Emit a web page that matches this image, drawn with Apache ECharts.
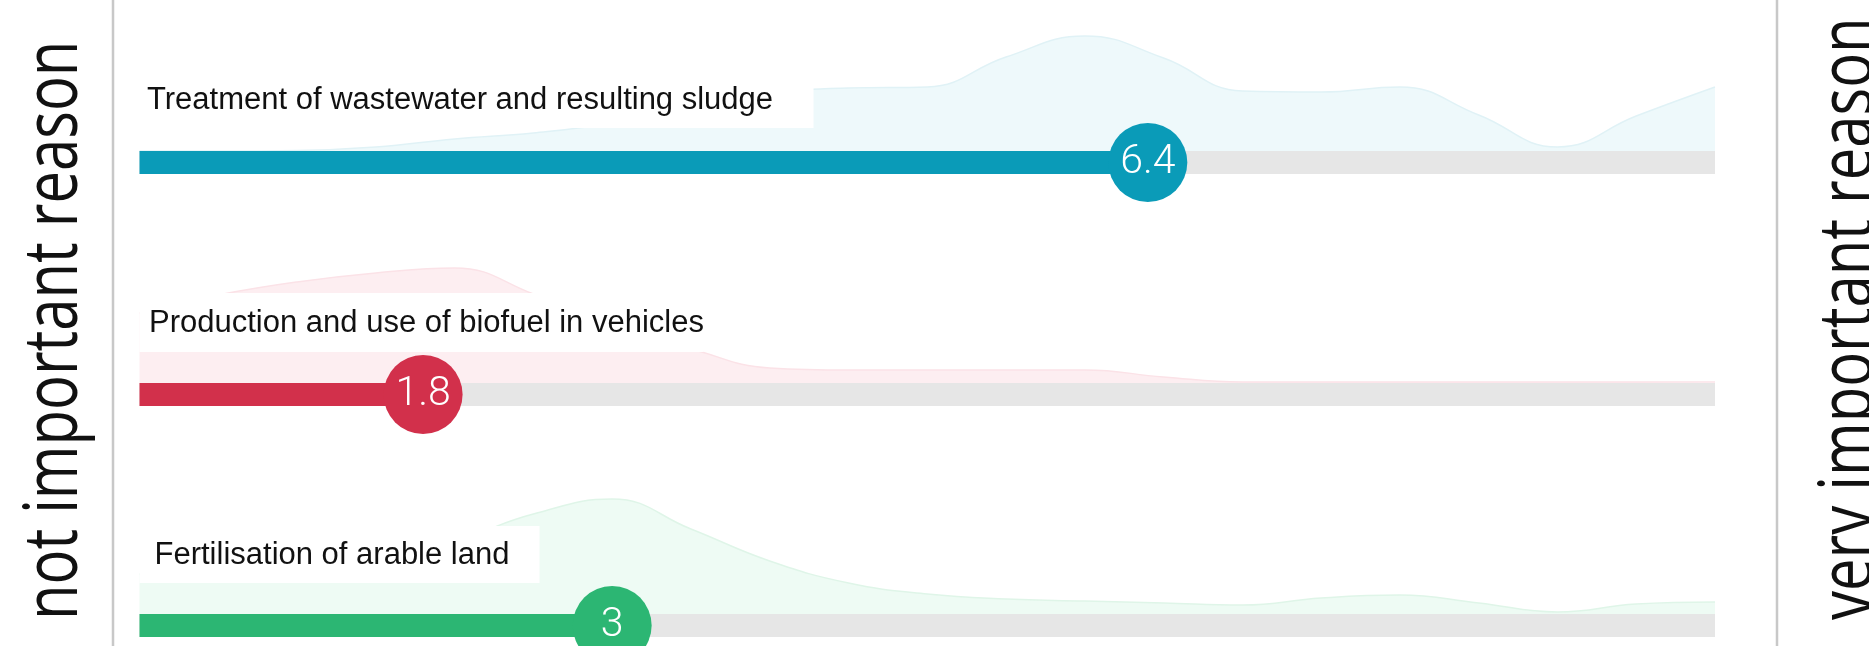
<!DOCTYPE html>
<html>
<head>
<meta charset="utf-8">
<script src="https://cdn.jsdelivr.net/npm/echarts@6.0.0/dist/echarts.min.js"></script>
<style>
  html, body { margin: 0; padding: 0; background: #ffffff; }
  #chart { width: 1869px; height: 646px; }
</style>
</head>
<body>
<div id="chart"></div>
<script>
// ---------------- data ----------------
const categories = [
  'Treatment of wastewater and resulting sludge',
  'Production and use of biofuel in vehicles',
  'Fertilisation of arable land'
];
const meanScores = [6.4, 1.8, 3];
const scaleMin = 0;
const scaleMax = 10;
const scaleLabels = ['not important reason', 'very important reason'];
// answer distribution (density) sampled along the 0–10 scale
const densityX = [0, 0.5, 1, 1.5, 2, 2.5, 3, 3.5, 4, 4.5, 5, 5.5, 6, 6.5, 7, 7.5, 8, 8.5, 9, 9.5, 10];
const densityWastewater = [0, 0, 0.0005, 0.004, 0.012, 0.018, 0.028, 0.045, 0.058, 0.063, 0.064, 0.094, 0.115, 0.093, 0.060, 0.059, 0.064, 0.036, 0.004, 0.035, 0.064];
const densityBiofuel = [0.070, 0.088, 0.101, 0.110, 0.115, 0.089, 0.055, 0.034, 0.015, 0.013, 0.013, 0.013, 0.013, 0.006, 0.001, 0.001, 0.001, 0.001, 0.001, 0.001, 0.001];
const densityFertilisation = [0.040, 0.045, 0.052, 0.062, 0.074, 0.100, 0.115, 0.085, 0.053, 0.031, 0.020, 0.015, 0.013, 0.011, 0.009, 0.016, 0.019, 0.011, 0.002, 0.010, 0.012];
const densities = [densityWastewater, densityBiofuel, densityFertilisation];

// ---------------- styling / layout ----------------
const mainColors = ['#0a9bb8', '#d2304b', '#2cb673'];
const areaFill = ['#eef9fb', '#fdeef1', '#eefbf4'];
const areaEdge = ['#e0f2f6', '#fbe2e7', '#dff5e8'];
const trackColor = '#e6e6e6';
const plotLeft = 139.5;
const plotWidth = 1575.5;
const barTops = [151, 383, 614];
const barH = 23;
const areaH = 130;
const areaMax = 0.13;
const labelBoxes = [
  { x: 139.5, y: 69, w: 674, h: 59, tx: 147, ty: 100 },
  { x: 139.5, y: 293, w: 564, h: 59, tx: 149, ty: 323 },
  { x: 139.5, y: 526, w: 400, h: 57, tx: 154.5, ty: 555 }
];

const grids = [], xAxes = [], yAxes = [], series = [], graphics = [];

categories.forEach((cat, i) => {
  const aIdx = grids.length;
  grids.push({ left: plotLeft, width: plotWidth, top: barTops[i] - areaH, height: areaH });
  xAxes.push({ gridIndex: aIdx, type: 'value', min: scaleMin, max: scaleMax, show: false });
  yAxes.push({ gridIndex: aIdx, type: 'value', min: 0, max: areaMax, show: false });
  const bIdx = grids.length;
  grids.push({ left: plotLeft, width: plotWidth, top: barTops[i], height: barH });
  xAxes.push({ gridIndex: bIdx, type: 'value', min: scaleMin, max: scaleMax, show: false });
  yAxes.push({ gridIndex: bIdx, type: 'category', data: [cat], show: false });

  series.push({
    type: 'line',
    xAxisIndex: aIdx, yAxisIndex: aIdx,
    data: densityX.map((x, k) => [x, densities[i][k]]),
    smooth: 0.45,
    symbol: 'none',
    silent: true,
    lineStyle: { color: areaEdge[i], width: 1.5 },
    areaStyle: { color: areaFill[i], opacity: 1 },
    z: 1
  });
  series.push({
    type: 'bar',
    xAxisIndex: bIdx, yAxisIndex: bIdx,
    data: [meanScores[i]],
    barWidth: barH,
    showBackground: true,
    backgroundStyle: { color: trackColor },
    itemStyle: { color: mainColors[i] },
    silent: true,
    z: 4
  });
  series.push({
    type: 'scatter',
    xAxisIndex: bIdx, yAxisIndex: bIdx,
    data: [[meanScores[i], 0]],
    symbol: 'circle',
    symbolSize: 79,
    clip: false,
    itemStyle: { color: mainColors[i], opacity: 1 },
    label: {
      show: true, position: 'inside',
      formatter: p => String(p.value[0]),
      color: '#ffffff', fontSize: 41, fontFamily: 'Roboto', fontWeight: 300
    },
    silent: true,
    z: 10
  });

  const b = labelBoxes[i];
  graphics.push({
    id: 'labelbox' + i,
    type: 'rect', z: 5, silent: true,
    shape: { x: b.x, y: b.y, width: b.w, height: b.h },
    style: { fill: '#ffffff' }
  });
  graphics.push({
    id: 'labeltext' + i,
    type: 'text', z: 6, silent: true,
    x: b.tx, y: b.ty,
    style: {
      text: cat, fill: '#111111',
      font: '31px "Liberation Sans", Arial, sans-serif',
      textAlign: 'left', textVerticalAlign: 'middle'
    }
  });
});

// side separators and scale end labels
graphics.push({ id: 'sepL', type: 'line', z: 6, silent: true, shape: { x1: 113, y1: 0, x2: 113, y2: 646 }, style: { stroke: '#c8c8c8', lineWidth: 2.5 } });
graphics.push({ id: 'sepR', type: 'line', z: 6, silent: true, shape: { x1: 1777, y1: 0, x2: 1777, y2: 646 }, style: { stroke: '#c8c8c8', lineWidth: 2.5 } });
graphics.push({
  id: 'endL',
  type: 'text', z: 6, silent: true,
  x: 56, y: 620, rotation: Math.PI / 2, scaleY: 1.3,
  style: { text: scaleLabels[0], fill: '#111111', font: '58px "Open Sans", sans-serif', textAlign: 'left', textVerticalAlign: 'middle' }
});
graphics.push({
  id: 'endR',
  type: 'text', z: 6, silent: true,
  x: 1851, y: 620, rotation: Math.PI / 2, scaleY: 1.3,
  style: { text: scaleLabels[1], fill: '#111111', font: '58px "Open Sans", sans-serif', textAlign: 'left', textVerticalAlign: 'middle' }
});

const chart = echarts.init(document.getElementById('chart'), null, { renderer: 'canvas' });
chart.setOption({
  animation: false,
  backgroundColor: '#ffffff',
  grid: grids,
  xAxis: xAxes,
  yAxis: yAxes,
  series: series,
  graphic: { elements: graphics }
});
</script>
</body>
</html>
